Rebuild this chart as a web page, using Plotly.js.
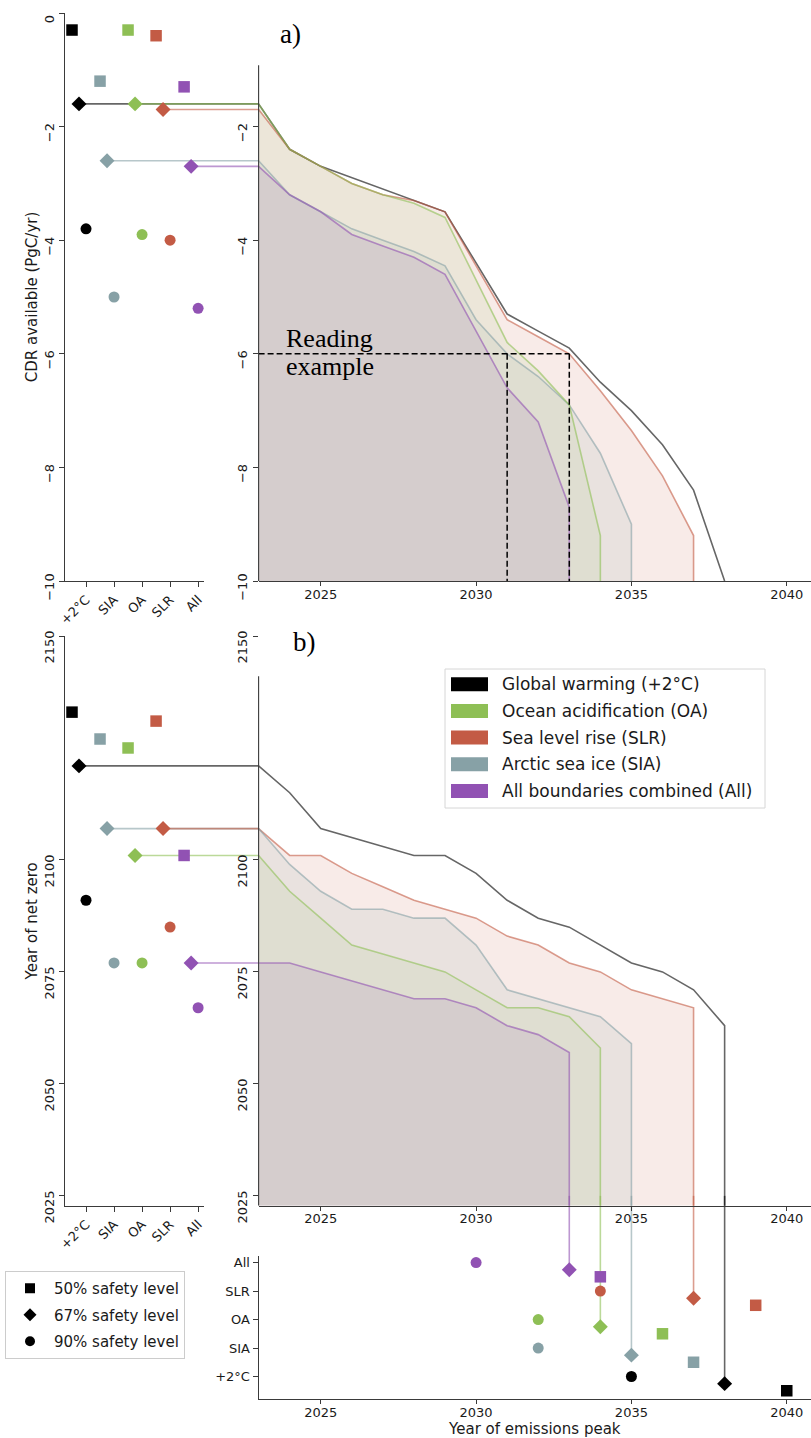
<!DOCTYPE html>
<html>
<head>
<meta charset="utf-8">
<script src="https://cdn.plot.ly/plotly-3.0.1.min.js"></script>
<style>html,body{margin:0;padding:0;background:#ffffff;}</style>
</head>
<body>
<div id="chart" style="width:811px;height:1438px;"></div>
<script>
// ------------------------------------------------------------------ data
const boundaries = ['+2°C', 'SIA', 'OA', 'SLR', 'All'];
const boundaryColors = ['#000000', '#87a1a6', '#8ebf55', '#c35b45', '#9152b3'];

const legendNames = ['Global warming (+2°C)', 'Ocean acidification (OA)', 'Sea level rise (SLR)', 'Arctic sea ice (SIA)', 'All boundaries combined (All)'];
const legendBoundary = ['+2°C', 'OA', 'SLR', 'SIA', 'All'];
const safetyLabels = ['50% safety level', '67% safety level', '90% safety level'];

// CDR available (PgC/yr) at each safety level
const cdr50 = [-0.3, -1.2, -0.3, -0.4, -1.3];
const cdr67 = [-1.6, -2.6, -1.6, -1.7, -2.7];
const cdr90 = [-3.8, -5.0, -3.9, -4.0, -5.2];

// Year of net zero at each safety level
const nz50 = [2133, 2127, 2125, 2131, 2101];
const nz67 = [2121, 2107, 2101, 2107, 2077];
const nz90 = [2091, 2077, 2077, 2085, 2067];

// Year of emissions peak at each safety level
const peak50 = [2040, 2037, 2036, 2039, 2034];
const peak67 = [2038, 2035, 2034, 2037, 2033];
const peak90 = [2035, 2032, 2032, 2034, 2030];

// pathways (67% safety level) vs. year of emissions peak
const years = [2023, 2024, 2025, 2026, 2027, 2028, 2029, 2030, 2031, 2032, 2033, 2034, 2035, 2036, 2037, 2038];

const cdrWarming = [-1.6, -2.4, -2.7, -2.9, -3.1, -3.3, -3.5, -4.4, -5.3, -5.6, -5.9, -6.5, -7.0, -7.6, -8.4, -10.0];
const cdrSLR     = [-1.7, -2.4, -2.7, -3.0, -3.2, -3.3, -3.5, -4.45, -5.4, -5.7, -6.0, -6.65, -7.35, -8.15, -9.2];
const cdrSIA     = [-2.6, -3.2, -3.5, -3.8, -4.0, -4.2, -4.45, -5.4, -6.0, -6.4, -6.9, -7.75, -9.0];
const cdrOA      = [-1.6, -2.4, -2.7, -3.0, -3.2, -3.35, -3.6, -4.7, -5.8, -6.3, -6.9, -9.2];
const cdrAll     = [-2.7, -3.2, -3.5, -3.9, -4.1, -4.3, -4.6, -5.6, -6.6, -7.2, -8.7];

const nzWarming = [2121, 2115, 2107, 2105, 2103, 2101, 2101, 2097, 2091, 2087, 2085, 2081, 2077, 2075, 2071, 2063];
const nzSLR     = [2107, 2101, 2101, 2097, 2094, 2091, 2089, 2087, 2083, 2081, 2077, 2075, 2071, 2069, 2067];
const nzSIA     = [2107, 2099, 2093, 2089, 2089, 2087, 2087, 2081, 2071, 2069, 2067, 2065, 2059];
const nzOA      = [2101, 2093, 2087, 2081, 2079, 2077, 2075, 2071, 2067, 2067, 2065, 2058];
const nzAll     = [2077, 2077, 2075, 2073, 2071, 2069, 2069, 2067, 2063, 2061, 2057];

// reading example
const readingCDR = -6;
const readingYears = [2031, 2033];

// ticks
const cdrTickVals = [0, -2, -4, -6, -8, -10];
const cdrTickText = ['0', '−2', '−4', '−6', '−8', '−10'];
const nzTickVals = [2025, 2050, 2075, 2100, 2150];
const yearTickVals = [2025, 2030, 2035, 2040];

// ------------------------------------------------------------------ layout geometry
const W = 811, H = 1438;
const FONT = 'DejaVu Sans, Arial, sans-serif';
const SERIF = 'Liberation Serif, Times New Roman, serif';
const AXC = '#3a3a3a';

const dom = {
  leftX: [65, 204], mainX: [258.6, 811],
  aLeftY: [13, 581], aMainY: [13, 581],
  bLeftY: [636, 1205.7], bMainY: [636, 1205.7],
  peakY: [1256, 1399.3]
};
const catRange = [-0.75, 4.21];
const peakCatRange = [-0.8, 4.23];
const yearRange = [2023, 2040.78];
const cdrRange = [-10, 0];
const nzRange = [2022.8, 2150];
const aSpineTop = -0.92;
const bSpineTop = 2141;

const xd = p => [p[0] / W, p[1] / W];
const yd = p => [1 - p[1] / H, 1 - p[0] / H];
function toPaperX(v, r, d) { const f = (v - r[0]) / (r[1] - r[0]); return (d[0] + f * (d[1] - d[0])) / W; }
function toPaperY(v, r, d) { const f = (v - r[0]) / (r[1] - r[0]); return 1 - (d[1] - f * (d[1] - d[0])) / H; }
function rgba(hex, a) {
  const n = parseInt(hex.slice(1), 16);
  return 'rgba(' + ((n >> 16) & 255) + ',' + ((n >> 8) & 255) + ',' + (n & 255) + ',' + a + ')';
}
const bIdx = name => boundaries.indexOf(name);

// ------------------------------------------------------------------ traces
const traces = [];
const LINE_A = 0.6;
const FILL_A = { '+2°C': 0, 'SLR': 0.12, 'SIA': 0.12, 'OA': 0.10, 'All': 0.12 };

function addPathways(xa, ya, floor, series) {
  ['SLR', 'SIA', 'OA', 'All'].forEach(name => {
    const v = series[name];
    const n = v.length;
    const xs = years.slice(0, n);
    traces.push({
      type: 'scatter', mode: 'none', xaxis: xa, yaxis: ya,
      x: xs.concat([xs[n - 1], xs[0]]), y: v.concat([floor, floor]),
      fill: 'toself', fillcolor: rgba(boundaryColors[bIdx(name)], FILL_A[name]),
      hoverinfo: 'skip', showlegend: false
    });
  });
  ['+2°C', 'SLR', 'SIA', 'OA', 'All'].forEach(name => {
    const v = series[name];
    const n = v.length;
    const xs = years.slice(0, n);
    traces.push({
      type: 'scatter', mode: 'lines', xaxis: xa, yaxis: ya,
      x: xs.concat([xs[n - 1]]), y: v.concat([floor]),
      line: { color: rgba(boundaryColors[bIdx(name)], LINE_A), width: 1.6 },
      hoverinfo: 'skip', showlegend: false
    });
  });
}
addPathways('x2', 'y2', cdrRange[0], { '+2°C': cdrWarming, 'SLR': cdrSLR, 'SIA': cdrSIA, 'OA': cdrOA, 'All': cdrAll });
addPathways('x4', 'y4', nzRange[0], { '+2°C': nzWarming, 'SLR': nzSLR, 'SIA': nzSIA, 'OA': nzOA, 'All': nzAll });

// reading example
const rx = [], ry = [];
rx.push(yearRange[0], Math.max(...readingYears), null);
ry.push(readingCDR, readingCDR, null);
readingYears.forEach(yr => { rx.push(yr, yr, null); ry.push(readingCDR, cdrRange[0], null); });
traces.push({ type: 'scatter', mode: 'lines', xaxis: 'x2', yaxis: 'y2', x: rx, y: ry,
  line: { color: '#000000', width: 1.5, dash: '6px,3px' }, hoverinfo: 'skip', showlegend: false });

// safety-level markers
const symbols = ['square', 'diamond', 'circle'];
const sizes = [11.5, 11.5, 11];
const offsets = [-0.5, -0.25, 0];
function addMarkers(xa, ya, values, horizontal) {
  values.forEach((vals, k) => {
    const cat = boundaries.map((_, i) => i + offsets[k]);
    traces.push({
      type: 'scatter', mode: 'markers', xaxis: xa, yaxis: ya,
      x: horizontal ? vals : cat, y: horizontal ? cat : vals,
      marker: { symbol: symbols[k], size: sizes[k], color: boundaryColors, line: { width: 0 } },
      cliponaxis: false, hoverinfo: 'skip', showlegend: false
    });
  });
}
addMarkers('x', 'y', [cdr50, cdr67, cdr90], false);
addMarkers('x3', 'y3', [nz50, nz67, nz90], false);
addMarkers('x5', 'y5', [peak50, peak67, peak90], true);

// legend entries for safety levels
safetyLabels.forEach((lab, k) => {
  traces.push({
    type: 'scatter', mode: 'markers', xaxis: 'x', yaxis: 'y', x: [null], y: [null],
    name: lab, legendgroup: 'g' + k,
    marker: { symbol: symbols[k], size: 10, color: '#000000' },
    hoverinfo: 'skip', showlegend: true
  });
});

// ------------------------------------------------------------------ shapes
const shapes = [];
boundaries.forEach((b, i) => {
  const col = rgba(boundaryColors[i], LINE_A);
  shapes.push({ type: 'line', xref: 'paper', yref: 'y', layer: 'below',
    x0: toPaperX(i + offsets[1], catRange, dom.leftX), x1: dom.mainX[0] / W,
    y0: cdr67[i], y1: cdr67[i], line: { color: col, width: 1.6 } });
  shapes.push({ type: 'line', xref: 'paper', yref: 'y3', layer: 'below',
    x0: toPaperX(i + offsets[1], catRange, dom.leftX), x1: dom.mainX[0] / W,
    y0: nz67[i], y1: nz67[i], line: { color: col, width: 1.6 } });
  shapes.push({ type: 'line', xref: 'x5', yref: 'paper', layer: 'below',
    x0: peak67[i], x1: peak67[i],
    y0: toPaperY(i + offsets[1], peakCatRange, dom.peakY), y1: toPaperY(nzTickVals[0], nzRange, dom.bMainY),
    line: { color: col, width: 1.6 } });
});
shapes.push({ type: 'line', xref: 'x2 domain', yref: 'y2', x0: 0, x1: 0, y0: aSpineTop, y1: cdrRange[0], line: { color: AXC, width: 1.1 } });
shapes.push({ type: 'line', xref: 'x4 domain', yref: 'y4', x0: 0, x1: 0, y0: bSpineTop, y1: nzRange[0], line: { color: AXC, width: 1.1 } });

// boundary legend (patch legend)
const lg = { x0: 445, x1: 765, y0: 669, y1: 808, patchX: [451, 488], textX: 500, row0: 684.3, rowStep: 26.65, patchH: 14 };
shapes.push({ type: 'rect', xref: 'paper', yref: 'paper', x0: lg.x0 / W, x1: lg.x1 / W, y0: 1 - lg.y1 / H, y1: 1 - lg.y0 / H,
  line: { color: '#d6d6d6', width: 1 }, fillcolor: 'rgba(255,255,255,0.85)', layer: 'above' });
const annotations = [];
legendNames.forEach((nm, k) => {
  const cy = lg.row0 + k * lg.rowStep;
  shapes.push({ type: 'rect', xref: 'paper', yref: 'paper', x0: lg.patchX[0] / W, x1: lg.patchX[1] / W,
    y0: 1 - (cy + lg.patchH / 2) / H, y1: 1 - (cy - lg.patchH / 2) / H,
    line: { width: 0 }, fillcolor: boundaryColors[bIdx(legendBoundary[k])], layer: 'above' });
  annotations.push({ xref: 'paper', yref: 'paper', x: lg.textX / W, y: 1 - cy / H, xanchor: 'left', yanchor: 'middle',
    text: nm, showarrow: false, font: { family: FONT, size: 17, color: '#1a1a1a' } });
});

annotations.push({ xref: 'paper', yref: 'paper', x: 278 / W, y: 1 - 34 / H, xanchor: 'left', yanchor: 'middle',
  text: 'a)', showarrow: false, font: { family: SERIF, size: 27, color: '#000' } });
annotations.push({ xref: 'paper', yref: 'paper', x: 291 / W, y: 1 - 642 / H, xanchor: 'left', yanchor: 'middle',
  text: 'b)', showarrow: false, font: { family: SERIF, size: 27, color: '#000' } });
annotations.push({ xref: 'paper', yref: 'paper', x: 284 / W, y: 1 - 338 / H, xanchor: 'left', yanchor: 'middle',
  text: 'Reading', showarrow: false, font: { family: SERIF, size: 26, color: '#000' } });
annotations.push({ xref: 'paper', yref: 'paper', x: 284 / W, y: 1 - 366 / H, xanchor: 'left', yanchor: 'middle',
  text: 'example', showarrow: false, font: { family: SERIF, size: 26, color: '#000' } });

// ------------------------------------------------------------------ axes
const base = {
  showgrid: false, zeroline: false, showline: true, linecolor: AXC, linewidth: 1.1,
  ticks: 'outside', ticklen: 5, tickwidth: 1, tickcolor: AXC,
  tickfont: { family: FONT, size: 13, color: '#1a1a1a' }, fixedrange: true
};
const catAxis = (domain, anchor) => Object.assign({}, base, {
  domain: xd(domain), anchor: anchor, range: catRange,
  tickmode: 'array', tickvals: boundaries.map((_, i) => i), ticktext: boundaries, tickangle: -45
});
const yearAxis = (domain, anchor, extra) => Object.assign({}, base, {
  domain: xd(domain), anchor: anchor, range: yearRange, tickmode: 'array', tickvals: yearTickVals,
  ticklen: 4, ticklabelstandoff: -3
}, extra || {});

const layout = {
  width: W, height: H, margin: { l: 0, r: 0, t: 0, b: 0 },
  paper_bgcolor: '#ffffff', plot_bgcolor: 'rgba(0,0,0,0)',
  showlegend: true,
  legend: {
    x: 5 / W, y: 1 - 1271 / H, xanchor: 'left', yanchor: 'top',
    bgcolor: 'rgba(255,255,255,0.85)', bordercolor: '#cccccc', borderwidth: 1, itemwidth: 38,
    font: { family: FONT, size: 15, color: '#1a1a1a' }, tracegroupgap: 4, traceorder: 'grouped'
  },
  xaxis: catAxis(dom.leftX, 'y'),
  yaxis: Object.assign({}, base, {
    domain: yd(dom.aLeftY), anchor: 'x', range: cdrRange,
    tickmode: 'array', tickvals: cdrTickVals, ticktext: cdrTickText, tickangle: -90, ticklabelshift: 8,
    title: { text: 'CDR available (PgC/yr)', font: { family: FONT, size: 15, color: '#1a1a1a' }, standoff: 0 }
  }),
  xaxis2: yearAxis(dom.mainX, 'y2'),
  yaxis2: Object.assign({}, base, {
    domain: yd(dom.aMainY), anchor: 'x2', range: cdrRange, showline: false,
    tickmode: 'array', tickvals: cdrTickVals.slice(1), ticktext: cdrTickText.slice(1), tickangle: -90, ticklabelshift: 8
  }),
  xaxis3: catAxis(dom.leftX, 'y3'),
  yaxis3: Object.assign({}, base, {
    domain: yd(dom.bLeftY), anchor: 'x3', range: nzRange,
    tickmode: 'array', tickvals: nzTickVals, tickangle: -90, ticklabelshift: 13,
    title: { text: 'Year of net zero', font: { family: FONT, size: 15, color: '#1a1a1a' }, standoff: 0 }
  }),
  xaxis4: yearAxis(dom.mainX, 'y4'),
  yaxis4: Object.assign({}, base, {
    domain: yd(dom.bMainY), anchor: 'x4', range: nzRange, showline: false,
    tickmode: 'array', tickvals: nzTickVals, tickangle: -90, ticklabelshift: 13
  }),
  xaxis5: yearAxis(dom.mainX, 'y5', {
    title: { text: 'Year of emissions peak', font: { family: FONT, size: 15, color: '#1a1a1a' }, standoff: 1 }
  }),
  yaxis5: Object.assign({}, base, {
    domain: yd(dom.peakY), anchor: 'x5', range: peakCatRange,
    tickmode: 'array', tickvals: boundaries.map((_, i) => i), ticktext: boundaries
  }),
  shapes: shapes,
  annotations: annotations
};

Plotly.newPlot('chart', traces, layout, { staticPlot: true, displayModeBar: false });
</script>
</body>
</html>
